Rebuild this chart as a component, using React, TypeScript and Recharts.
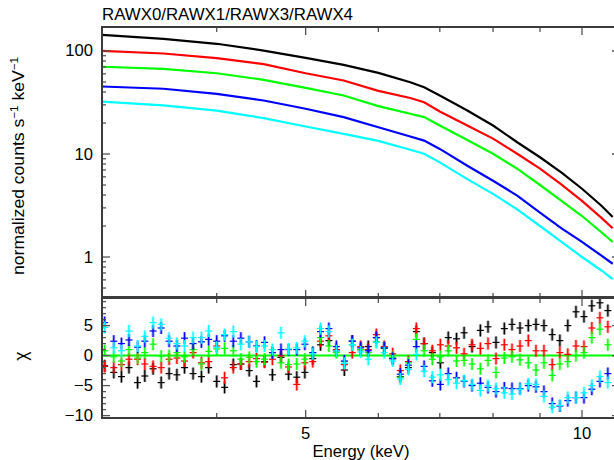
import { ComposedChart, Line, ScatterChart, Scatter, XAxis, YAxis, ReferenceLine } from 'recharts';

// spectrum (top panel)
const topEnergy = [3.0, 3.5, 4.0, 4.5, 5.0, 5.5, 6.0, 6.5, 6.73, 7.0, 7.5, 8.0, 8.5, 9.0, 9.5, 10.0, 10.5, 10.8];
const specRawx0 = [143.6, 131, 117.5, 101, 85.9, 73.4, 61.4, 49.8, 44.5, 37.0, 26.4, 18.9, 13.0, 9.3, 6.6, 4.6, 3.15, 2.45];
const specRawx1 = [100.5, 94.6, 85.2, 74.5, 60.8, 51.7, 41, 35, 31.8, 25.9, 18.9, 14.1, 10.05, 7.2, 5.05, 3.5, 2.4, 1.9];
const specRawx3 = [70.3, 67.1, 60.8, 52.5, 43.9, 37.0, 29.2, 24.6, 22.8, 18.9, 13.7, 10.05, 7.2, 5.0, 3.5, 2.5, 1.74, 1.4];
const specRawx4 = [45.2, 43.0, 38.4, 33.1, 27.5, 22.8, 18.2, 14.8, 13.5, 11.2, 7.7, 5.5, 3.95, 2.7, 1.9, 1.4, 1.03, 0.86];
const specRawx5 = [32.3, 29.6, 26.4, 22.3, 18.5, 15.7, 13.4, 11.0, 10.05, 8.3, 5.7, 4.1, 2.9, 2.0, 1.4, 1.0, 0.74, 0.61];

// residuals (bottom panel)
const resEnergy = [
  3.02, 3.09, 3.15, 3.21, 3.28, 3.34, 3.41, 3.48, 3.55, 3.62, 3.69, 3.77, 3.85, 3.92, 4.0, 4.08,
  4.17, 4.25, 4.34, 4.42, 4.51, 4.6, 4.7, 4.79, 4.89, 4.99, 5.09, 5.19, 5.3, 5.4, 5.51, 5.62,
  5.74, 5.85, 5.97, 6.09, 6.22, 6.34, 6.47, 6.6, 6.73, 6.87, 7.01, 7.15, 7.3, 7.44, 7.59, 7.75,
  7.9, 8.06, 8.23, 8.39, 8.56, 8.74, 8.91, 9.09, 9.28, 9.46, 9.65, 9.85, 10.05, 10.25, 10.46, 10.67,
];
const chiRawx0 = [
  -1.7, -2.8, -3.5, -2.0, -4.5, -3.4, -2.2, -4.5, -3.0, -3.2, -2.0, -3.0, -3.5, -2.0, -4.3, -5.3,
  -1.5, -1.4, -2.5, -4.3, -1.0, -3.2, -0.3, -3.1, -3.6, -2.8, -0.5, 1.8, 2.5, 0.8, -2.4, 2.4,
  1.0, 1.5, 3.0, 1.2, -0.5, -3.5, -2.0, 4.0, 2.0, 0.5, -1.2, 3.0, 2.8, 3.8, 1.5, 4.2,
  4.8, 2.2, 4.5, 5.2, 4.6, 5.0, 5.2, 5.0, 3.5, 2.5, 5.0, 7.3, 6.5, 8.3, 8.8, 7.5,
];
const chiRawx1 = [
  -1.8, -2.0, -1.5, -0.6, -0.6, -1.4, -1.8, -2.0, -0.6, -0.4, -0.9, 0.5, -1.2, -1.0, 1.6, -3.7,
  -2.0, -1.4, -1.0, -0.5, -1.1, -0.6, 0.0, -1.9, -4.8, -1.2, -1.0, 2.4, 3.3, 1.0, -1.5, 0.5,
  1.5, 1.0, 3.5, 1.5, 0.3, -2.5, -1.0, 4.5, 2.0, 0.8, 1.8, 1.6, 1.3, 0.3, 1.8, 1.2,
  2.0, -0.5, 1.8, 1.0, 1.6, 2.5, 0.8, 0.8, -1.5, 0.5, 0.2, 1.6, 1.5, 4.6, 6.3, 4.8,
];
const chiRawx3 = [
  0.8, -0.2, -0.9, 1.0, -0.4, 0.5, 1.9, -0.1, 0.0, 0.5, -0.2, 1.0, -1.4, 0.7, 1.1, 1.2,
  0.8, -0.6, -0.3, -1.0, -0.6, 0.5, -1.2, -1.5, -1.4, -0.6, 0.5, 3.0, 1.6, 0.5, -1.0, 1.8,
  1.0, 0.5, 2.3, 1.3, -0.3, -3.6, -1.2, 2.7, 0.8, -0.6, -0.2, 0.8, -0.9, -0.8, -1.4, -2.2,
  -0.8, -2.8, -0.4, -0.2, -0.7, -1.2, -2.4, -1.2, -3.3, -1.4, -1.0, 0.0, 0.5, 3.0, 4.4, 1.8,
];
const chiRawx4 = [
  5.5, 2.4, 2.0, 2.6, 1.4, 2.4, 4.1, 4.6, 2.4, 1.6, 2.9, 2.0, 2.3, 2.7, 2.4, 3.3,
  2.4, 2.9, 2.3, 1.6, 2.2, 0.5, 1.0, 1.0, 1.0, 1.9, 0.5, 4.0, 4.5, 1.5, -0.9, 2.4,
  1.3, 0.8, 3.0, 1.3, -0.5, -3.1, -1.6, 1.5, -1.8, -4.2, -4.8, -3.0, -3.7, -4.3, -5.0, -4.6,
  -5.3, -6.0, -5.4, -5.5, -5.5, -5.0, -5.2, -6.0, -8.0, -8.4, -7.5, -7.0, -7.0, -5.6, -4.3, -3.0,
];
const chiRawx5 = [
  4.7, 1.3, 0.8, 4.1, 1.6, 3.2, 5.5, 5.2, 2.9, 2.0, 1.6, 3.0, 3.0, 4.1, 1.4, 3.5,
  4.0, 1.9, 2.3, 1.5, 1.6, 1.0, 3.8, 1.1, 1.3, 2.4, 0.3, 4.5, 4.0, 0.8, -1.3, 1.8,
  0.6, -0.6, 2.2, 0.5, -0.9, -3.9, -2.3, 0.2, -2.6, -3.6, -3.2, -4.0, -4.6, -4.2, -4.8, -5.8,
  -5.0, -5.5, -6.2, -6.4, -5.6, -4.7, -4.8, -6.8, -8.6, -8.3, -7.0, -7.0, -6.2, -5.0, -3.5, -4.5,
];

const energyTicks = [3, 4, 5, 6, 7, 8, 9, 10];
const energyLabels = [5, 10];
const specTicks = [0.5, 0.6, 0.7, 0.8, 0.9, 1, 2, 3, 4, 5, 6, 7, 8, 9, 10, 20, 30, 40, 50, 60, 70, 80, 90, 100];
const specLabels = [1, 10, 100];
const chiTicks = [-10, -9, -8, -7, -6, -5, -4, -3, -2, -1, 0, 1, 2, 3, 4, 5, 6, 7, 8, 9];
const chiLabels = [-10, -5, 0, 5];

const COLORS = ['#000000', '#ff0000', '#00ff00', '#0000ff', '#00ffff'];
const FONT = '"Liberation Sans", Arial, sans-serif';
const FS = 16.6;
const TICK = '#555';

const W = 620;
const LEFT = 102;
const TOP = 27;
const MID = 298;
const BOT = 418;

const fmt = (v: number) => (v < 0 ? '\u2212' + Math.abs(v) : String(v));

const yTick = (labels: number[]) => (props: any) => {
  const { x, y, payload } = props;
  const v = payload.value;
  const major = labels.includes(v);
  const len = major ? 8 : 4;
  return (
    <g>
      <line x1={x} x2={x + len} y1={y} y2={y} stroke={TICK} strokeWidth={1.3} />
      <line x1={W - len} x2={W} y1={y} y2={y} stroke={TICK} strokeWidth={1.3} />
      {major && (
        <text x={x - 9} y={y} textAnchor="end" dominantBaseline="central" fontSize={FS} fontFamily={FONT} fill="#000">
          {fmt(v)}
        </text>
      )}
    </g>
  );
};

const xTick = (top: number, showLabels: boolean) => (props: any) => {
  const { x, y, payload } = props;
  const v = payload.value;
  const major = energyLabels.includes(v);
  const len = major ? 8 : 5;
  return (
    <g>
      <line x1={x} x2={x} y1={y} y2={y - len} stroke={TICK} strokeWidth={1.3} />
      <line x1={x} x2={x} y1={top} y2={top + len} stroke={TICK} strokeWidth={1.3} />
      {showLabels && major && (
        <text x={x} y={y + 15} textAnchor="middle" dominantBaseline="central" fontSize={FS} fontFamily={FONT} fill="#000">
          {v}
        </text>
      )}
    </g>
  );
};

const Cross = (props: any) => {
  const { cx, cy, fill } = props;
  if (cx == null || cy == null) return null;
  return (
    <g>
      <line x1={cx} x2={cx} y1={cy - 6} y2={cy + 6} stroke={fill} strokeWidth={3} strokeOpacity={0.35} />
      <line x1={cx} x2={cx} y1={cy - 6} y2={cy + 6} stroke={fill} strokeWidth={1.2} />
      <line x1={cx - 3.5} x2={cx + 3.5} y1={cy} y2={cy} stroke={fill} strokeWidth={1.2} />
    </g>
  );
};

export default function App() {
  const spec = topEnergy.map((e, i) => ({
    e,
    s0: specRawx0[i],
    s1: specRawx1[i],
    s3: specRawx3[i],
    s4: specRawx4[i],
    s5: specRawx5[i],
  }));
  const chiSets = [chiRawx0, chiRawx1, chiRawx3, chiRawx4, chiRawx5].map((arr) =>
    resEnergy.map((e, i) => ({ e, chi: arr[i] }))
  );

  return (
    <div style={{ position: 'absolute', left: 0, top: 0, width: 614, height: 460, overflow: 'hidden', background: '#fff' }}>
      <div style={{ position: 'absolute', left: 0, top: 0 }}>
        <ComposedChart width={W} height={MID + 1} data={spec} margin={{ top: TOP, right: 0, bottom: 0, left: 0 }}>
          <XAxis
            dataKey="e"
            type="number"
            scale="log"
            domain={[3, 11]}
            allowDataOverflow
            ticks={energyTicks}
            interval={0}
            height={1}
            tickSize={0}
            tickMargin={0}
            axisLine={false}
            tickLine={false}
            tick={xTick(TOP, false)}
          />
          <YAxis
            type="number"
            scale="log"
            domain={[0.4, 171]}
            allowDataOverflow
            ticks={specTicks}
            interval={0}
            width={LEFT}
            tickSize={0}
            tickMargin={0}
            axisLine={false}
            tickLine={false}
            tick={yTick(specLabels)}
          />
          {['s0', 's1', 's3', 's4', 's5'].map((k, i) => (
            <Line key={k} dataKey={k} type="linear" stroke={COLORS[i]} strokeWidth={2.2} dot={false} isAnimationActive={false} />
          ))}
        </ComposedChart>
      </div>
      <div style={{ position: 'absolute', left: 0, top: 0 }}>
        <ScatterChart width={W} height={460} margin={{ top: MID, right: 0, bottom: 0, left: 0 }}>
          <XAxis
            dataKey="e"
            type="number"
            scale="log"
            domain={[3, 11]}
            allowDataOverflow
            ticks={energyTicks}
            interval={0}
            height={460 - BOT}
            tickSize={0}
            tickMargin={0}
            axisLine={false}
            tickLine={false}
            tick={xTick(MID, true)}
          />
          <YAxis
            dataKey="chi"
            type="number"
            domain={[-10.4, 9.6]}
            allowDataOverflow
            ticks={chiTicks}
            interval={0}
            width={LEFT}
            tickSize={0}
            tickMargin={0}
            axisLine={false}
            tickLine={false}
            tick={yTick(chiLabels)}
          />
          {chiSets.map((d, i) => (
            <Scatter key={i} data={d} fill={COLORS[i]} shape={Cross} isAnimationActive={false} />
          ))}
          <ReferenceLine y={0} stroke="#00ff00" strokeWidth={2} />
        </ScatterChart>
      </div>
      <div style={{ position: 'absolute', left: LEFT - 1, top: TOP - 1, width: W - LEFT + 2, height: MID - TOP + 1, border: '2px solid #3c3c3c', boxSizing: 'border-box', pointerEvents: 'none' }} />
      <div style={{ position: 'absolute', left: LEFT - 1, top: MID - 1, width: W - LEFT + 2, height: BOT - MID + 2, border: '2px solid #3c3c3c', boxSizing: 'border-box', pointerEvents: 'none' }} />
      <svg width={614} height={460} style={{ position: 'absolute', left: 0, top: 0, pointerEvents: 'none' }}>
        <text x={LEFT} y={20} fontSize={FS} fontFamily={FONT} fill="#000" textLength={251} lengthAdjust="spacingAndGlyphs">
          RAWX0/RAWX1/RAWX3/RAWX4
        </text>
        <text
          x={24}
          y={166}
          transform="rotate(-90 24 166)"
          textAnchor="middle"
          fontSize={FS}
          fontFamily={FONT}
          fill="#000"
          textLength={218}
          lengthAdjust="spacingAndGlyphs"
        >
          normalized counts s<tspan dy={-6} fontSize={11}>{'\u22121'}</tspan>
          <tspan dy={6}> keV</tspan>
          <tspan dy={-6} fontSize={11}>{'\u22121'}</tspan>
        </text>
        <text x={27} y={356} transform="rotate(-90 27 356)" textAnchor="middle" fontSize={FS + 1} fontFamily={FONT} fill="#000">χ</text>
        <text
          x={(LEFT + W) / 2}
          y={451}
          textAnchor="middle"
          dominantBaseline="central"
          fontSize={FS}
          fontFamily={FONT}
          fill="#000"
          textLength={97}
          lengthAdjust="spacingAndGlyphs"
        >
          Energy (keV)
        </text>
      </svg>
    </div>
  );
}
